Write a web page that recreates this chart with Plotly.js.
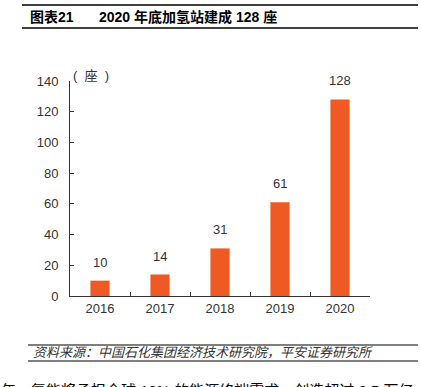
<!DOCTYPE html>
<html>
<head>
<meta charset="utf-8">
<script src="https://cdn.plot.ly/plotly-3.0.1.min.js"></script>
<style>
html,body{margin:0;padding:0;background:#fff;overflow:hidden;}
#chart{width:421px;height:387px;}
</style>
</head>
<body>
<div id="chart"></div>
<script>
const years = ['2016', '2017', '2018', '2019', '2020'];
const stations = [10, 14, 31, 61, 128];
const yTicks = [0, 20, 40, 60, 80, 100, 120, 140];

const W = 421, H = 387;
const L = 70, R = 370, T = 81, B = 296;
const px = x => (x - L) / (R - L);
const py = y => (B - y) / (B - T);

const FONT = '"Liberation Sans", Arial, "Noto Sans CJK SC", sans-serif';
const CJK = '"Liberation Sans", "Noto Sans CJK SC", sans-serif';

const trace = {
  type: 'bar',
  x: years,
  y: stations,
  width: 0.32,
  marker: {color: '#EF5A24', line: {width: 0}},
  hoverinfo: 'skip'
};

const annotations = years.map((yr, i) => ({
  x: i, y: stations[i], xref: 'x', yref: 'y',
  text: String(stations[i]), showarrow: false,
  yanchor: 'bottom', yshift: 9,
  font: {family: FONT, size: 13, color: '#333333'}
}));

annotations.push(
  {xref: 'paper', yref: 'paper', x: px(28), y: py(17), xanchor: 'left', yanchor: 'middle',
   text: '<b>图表21</b>', showarrow: false, font: {family: CJK, size: 14, color: '#000'}},
  {xref: 'paper', yref: 'paper', x: px(97), y: py(17), xanchor: 'left', yanchor: 'middle',
   text: '<b>2020 年底加氢站建成 128 座</b>', showarrow: false, font: {family: CJK, size: 14, color: '#000'}},
  {xref: 'paper', yref: 'paper', x: px(71), y: py(75), xanchor: 'left', yanchor: 'middle',
   text: '(&nbsp;&nbsp;座&nbsp;&nbsp;)', showarrow: false, font: {family: CJK, size: 13, color: '#333333'}},
  {xref: 'paper', yref: 'paper', x: px(31), y: py(352), xanchor: 'left', yanchor: 'middle',
   text: '<i>资料来源：中国石化集团经济技术研究院，平安证券研究所</i>', showarrow: false,
   font: {family: CJK, size: 13, color: '#333333'}},
  {xref: 'paper', yref: 'paper', x: px(-1), y: py(380), xanchor: 'left', yanchor: 'top',
   text: '年，氢能将承担全球 18% 的能源终端需求，创造超过 2.5 万亿', showarrow: false,
   font: {family: CJK, size: 15, color: '#000'}}
);

const shapes = [
  {type: 'line', xref: 'paper', yref: 'paper', x0: px(22), x1: px(418), y0: py(5), y1: py(5), line: {color: '#000', width: 1.5}},
  {type: 'line', xref: 'paper', yref: 'paper', x0: px(22), x1: px(418), y0: py(28), y1: py(28), line: {color: '#000', width: 1.5}},
  {type: 'line', xref: 'paper', yref: 'paper', x0: px(28), x1: px(418), y0: py(345), y1: py(345), line: {color: '#000', width: 1.2}},
  {type: 'line', xref: 'paper', yref: 'paper', x0: px(28), x1: px(418), y0: py(361), y1: py(361), line: {color: '#000', width: 1.2}}
];

const layout = {
  width: W, height: H,
  margin: {l: L, r: W - R, t: T, b: H - B, pad: 0},
  paper_bgcolor: '#fff', plot_bgcolor: '#fff',
  showlegend: false,
  xaxis: {
    type: 'category', range: [-0.5, years.length - 0.5], autorange: false,
    showline: true, linecolor: '#333', linewidth: 1,
    ticks: 'inside', tickson: 'boundaries', ticklen: 4, tickcolor: '#333',
    tickangle: 0,
    showgrid: false, zeroline: false, fixedrange: true,
    tickfont: {family: FONT, size: 13, color: '#333333'}
  },
  yaxis: {
    range: [0, 140], autorange: false, tickvals: yTicks, ticktext: yTicks.map(String),
    showline: true, linecolor: '#333', linewidth: 1,
    ticks: 'inside', ticklen: 4, tickcolor: '#333',
    showgrid: false, zeroline: false, fixedrange: true,
    ticklabelstandoff: 8,
    tickfont: {family: FONT, size: 13, color: '#333333'}
  },
  annotations: annotations,
  shapes: shapes
};

Plotly.newPlot('chart', [trace], layout, {displayModeBar: false, staticPlot: true});
</script>
</body>
</html>
